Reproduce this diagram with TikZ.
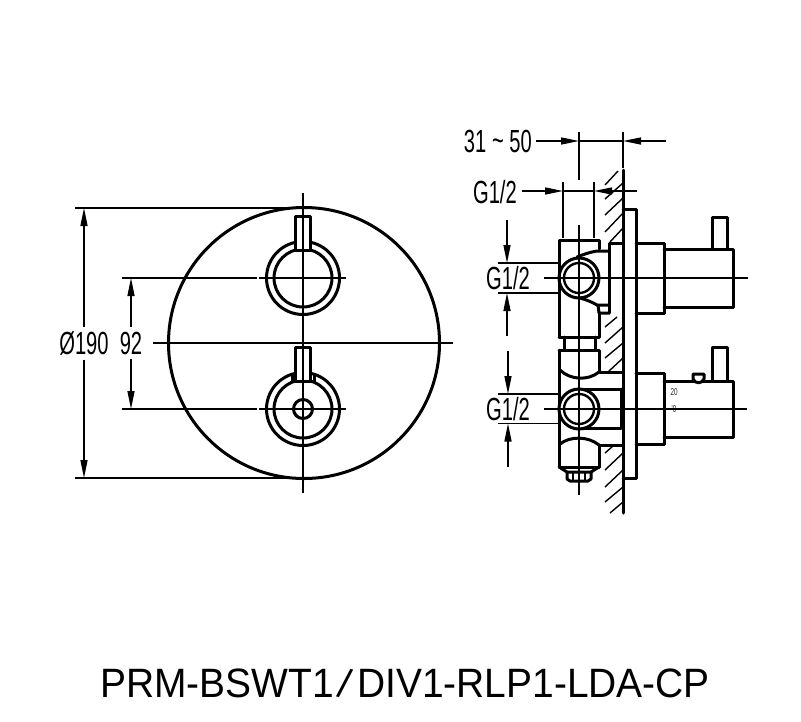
\documentclass[tikz,border=0pt]{standalone}
\usepackage{fontspec}
\setmainfont{Liberation Sans}
\newfontfamily\dimfont[FakeStretch=0.63]{Liberation Sans}
\newfontfamily\titlefont[FakeStretch=0.95]{Liberation Sans}
\usetikzlibrary{arrows.meta}
\tikzset{
  thick line/.style={line width=3pt,line join=round,line cap=round},
  thin line/.style={line width=1.4pt},
  hatch/.style={line width=1.4pt},
  dim/.style={line width=1.4pt,-{Triangle[length=18pt,width=7pt]}},
  dimtext/.style={inner sep=0pt,font=\dimfont\fontsize{32}{32}\selectfont},
  tiny text/.style={inner sep=0pt,font=\dimfont\fontsize{10}{10}\selectfont,text=black!85},
  title text/.style={inner sep=0pt,font=\titlefont\fontsize{41}{41}\selectfont}
}
\begin{document}
\begin{tikzpicture}[x=1pt,y=-1pt]
\useasboundingbox[fill=white] (0,0) rectangle (801,721);
% ---- front view
\draw[thick line] (304,343) circle[radius=135.5pt];
\foreach \cy in {278,409}{
  \draw[thick line] (303,\cy) circle[radius=36.5pt];
  \draw[thick line] (303,\cy) circle[radius=29pt];
}
\draw[thick line,fill=white] (295.5,250) rectangle (310.5,216);
\draw[thick line,fill=white] (295.5,381) rectangle (310.5,347);
\draw[thick line] (292,375) -- (292,381) (314,375) -- (314,381);
\draw[thick line] (303,409) circle[radius=9.5pt];
\draw[thin line] (303,193) -- (303,493);
\draw[thin line] (75,208) -- (303,208) (75,478) -- (303,478);
\draw[thin line] (122,278) -- (257,278) (259,278) -- (346,278);
\draw[thin line] (122,409) -- (257,409) (259,409) -- (346,409);
\draw[thin line] (153,343) -- (453,343);
\node[dimtext] (dia) at (84,343.5) {Ø190};
\node[dimtext] (pitch) at (131,343.5) {92};
\draw[dim] (84,327) -- (84,208);
\draw[dim] (84,360) -- (84,478);
\draw[dim] (131,327) -- (131,278);
\draw[dim] (131,359) -- (131,409);
% ---- side view: hatching
\foreach \a/\b/\c/\d in {605/185/618/171, 605/199/623/183, 605/215/623/198, 605/232/623/213, 610/242/623/228, 605/327/617/317, 605/343/623/327, 605/358/623/343, 608/372/623/358, 605/453/613/446, 605/470/623/453, 605/487/623/470, 605/502/623/487, 610/513/623/502}{
  \draw[hatch] (\a,\b) -- (\c,\d);
}
% wall and plate
\draw[thick line] (623,170) -- (623,513);
\draw[thick line] (623,209) -- (636,209) -- (636,478) -- (623,478);
% upper knob
\draw[thick line] (636,243) -- (664,243) -- (664,313) -- (636,313);
\draw[thick line] (664,249) -- (733,249) -- (733,307) -- (664,307);
\draw[thick line] (712,249) -- (712,217) -- (727,217) -- (727,249);
% lower knob
\draw[thick line] (636,373) -- (664,373) -- (664,444) -- (636,444);
\draw[thick line] (664,381) -- (733,381) -- (733,437) -- (664,437);
\draw[thick line] (712,381) -- (712,347) -- (727,347) -- (727,381);
\draw[thick line,fill=white] (693,374) -- (704,374) -- (704,379) .. controls (702,384) and (695,384) .. (693,379) -- cycle;
\node[tiny text] (t20) at (674,392) {20};
\node[tiny text] (t10) at (674,409) {'0};
% valve body, upper
\draw[thick line] (559,337) -- (559,240) -- (599,240) -- (599,249);
\draw[thick line] (577,257) .. controls (584,254) and (591,252) .. (597,251) -- (609,251);
\draw[thick line] (580,298) .. controls (587,300) and (592,302) .. (597,305) -- (609,305);
\draw[thick line] (598,305) -- (599,313) -- (609,313);
\draw[thick line] (623,243) -- (609,243) -- (609,313);
\draw[thick line] (599,313) -- (599,337) -- (559,337);
\draw[thick line] (564,337) -- (564,349) (595,337) -- (595,349);
\draw[thick line] (579,278) circle[radius=20pt];
\draw[line width=2.4pt] (579,278) circle[radius=15pt];
% valve body, lower
\draw[thick line] (559,350) -- (599,350) -- (599,372) -- (623,372);
\draw[thick line] (559,350) -- (559,467) -- (599,467) -- (599,445) -- (623,445);
\draw[thick line] (560,370) .. controls (570,380) and (588,381) .. (599,372);
\draw[thick line] (560,444) .. controls (570,436) and (588,436) .. (599,445);
\draw[thick line] (579,389) -- (621,389) (579,428) -- (621,428);
\draw[thick line] (621,389) -- (621,428);
\draw[thick line,fill=white] (579,409) circle[radius=20pt];
\draw[line width=2.4pt] (579,409) circle[radius=15pt];
% drain plug
\draw[thick line] (559,467) -- (567,472) -- (591,472) -- (599,467);
\draw[thick line] (567,472) -- (567,479) -- (570,481) -- (588,481) -- (591,479) -- (591,472);
\draw[line width=1.8pt] (573,472) -- (573,481) (585,472) -- (585,481);
% centre lines
\draw[thin line] (579,225) -- (579,495);
\draw[thin line] (544,278) -- (748,278);
\draw[thin line] (544,409) -- (747,409);
% 31~50
\node[dimtext,anchor=east] (gap) at (532,141) {31 \raisebox{1pt}{\textasciitilde} 50};
\draw[thin line] (579,132) -- (579,180) (623,132) -- (623,168);
\draw[dim] (536,141) -- (579,141);
\draw[thin line] (579,141) -- (623,141);
\draw[dim] (666,141) -- (623,141);
% G1/2 top
\node[dimtext,anchor=east] (gtop) at (517,192) {G1/2};
\draw[thin line] (563,182) -- (563,238) (594,182) -- (594,238);
\draw[dim] (522,191) -- (563,191);
\draw[thin line] (563,191) -- (594,191);
\draw[dim] (637,191) -- (594,191);
% G1/2 upper
\node[dimtext] (gu) at (508,278) {G1/2};
\draw[thin line] (498,263) -- (559,263) (498,293) -- (559,293);
\draw[dim] (507,220) -- (507,263);
\draw[dim] (507,336) -- (507,293);
% G1/2 lower
\node[dimtext] (gl) at (508,409) {G1/2};
\draw[thin line] (498,394) -- (559,394) (498,423.5) -- (559,423.5);
\draw[dim] (508,351) -- (508,394);
\draw[dim] (508,467) -- (508,423.5);
% title
\node[title text] (title) at (405,683) {PRM-BSWT1\kern3pt\rotatebox[origin=c]{-13}{/}\kern3pt DIV1-RLP1-LDA-CP};
\end{tikzpicture}
\end{document}
